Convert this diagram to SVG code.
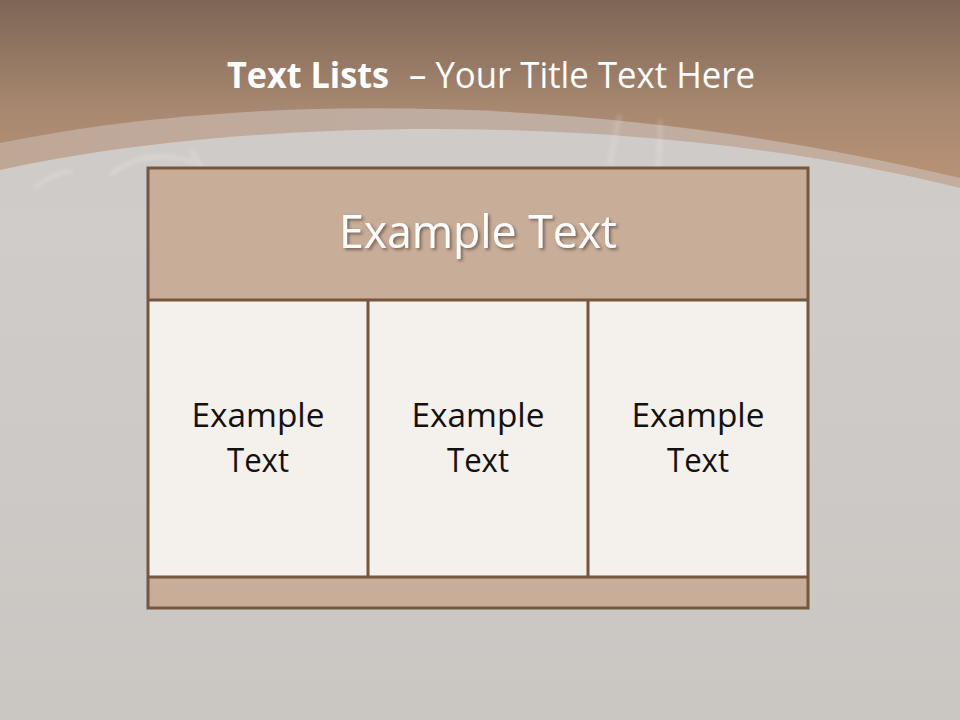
<svg xmlns="http://www.w3.org/2000/svg" width="960" height="720" viewBox="0 0 960 720">
  <defs>
    <linearGradient id="topGrad" x1="0" y1="0" x2="0" y2="1" gradientUnits="objectBoundingBox">
      <stop offset="0" stop-color="#7d6656"/>
      <stop offset="0.55" stop-color="#a88870"/>
      <stop offset="1" stop-color="#bb9579"/>
    </linearGradient>
    <linearGradient id="bandGrad" x1="0" y1="0" x2="1" y2="0">
      <stop offset="0" stop-color="#bfa796"/>
      <stop offset="0.5" stop-color="#bfada2"/>
      <stop offset="1" stop-color="#c4ad9e"/>
    </linearGradient>
    <linearGradient id="bgGrad" x1="0" y1="0" x2="0" y2="1">
      <stop offset="0" stop-color="#d0ccc9"/>
      <stop offset="1" stop-color="#cac6c2"/>
    </linearGradient>
    <filter id="shadow" x="-10%" y="-30%" width="130%" height="170%">
      <feDropShadow dx="2" dy="2" stdDeviation="1.5" flood-color="#3a2a1f" flood-opacity="0.55"/>
    </filter>
    <filter id="soft" x="-20%" y="-20%" width="140%" height="140%">
      <feGaussianBlur stdDeviation="2"/>
    </filter>
  </defs>
  <style>
    .grid { stroke: #75573f; stroke-width: 3; }
    .hdr { fill: #c8ad98; }
    .cell { fill: #f4f0ec; }
    .title { font-family: "Open Sans", "Liberation Sans", sans-serif; fill: #ffffff; font-size: 36px; }
    .head { font-family: "Open Sans", "Liberation Sans", sans-serif; fill: #ffffff; font-size: 45px; text-anchor: middle; }
    .body { font-family: "Open Sans", "Liberation Sans", sans-serif; fill: #111111; font-size: 33px; text-anchor: middle; }
    .streak { fill: none; stroke: #ffffff; stroke-opacity: 0.25; stroke-width: 3; }
  </style>

  <!-- background -->
  <rect x="0" y="0" width="960" height="720" fill="url(#bgGrad)"/>
  <path d="M0,0 H960 V200 H0 Z" fill="url(#topGrad)"/>
  <path d="M0,143 C250,92 600,92 960,178 V720 H0 Z" fill="url(#bandGrad)"/>
  <path d="M0,170 C250,115 650,110 960,188 V720 H0 Z" fill="#cfcbc8"/>
  <path d="M0,210 H960 V720 H0 Z" fill="url(#bgGrad)"/>
  <g filter="url(#soft)">
    <path class="streak" d="M35,188 C50,175 65,170 72,172"/>
    <path class="streak" d="M110,175 C130,158 165,150 195,163"/>
    <path class="streak" d="M190,150 C200,160 205,175 210,190"/>
    <path class="streak" d="M620,115 C615,135 612,150 610,165"/>
    <path class="streak" d="M660,120 C660,140 660,155 658,170"/>
  </g>

  <!-- title -->
  <g id="title">
    <text class="title" x="227" y="88" font-weight="bold" textLength="162" lengthAdjust="spacingAndGlyphs">Text Lists</text>
    <text class="title" x="409" y="88" textLength="346" lengthAdjust="spacingAndGlyphs">– Your Title Text Here</text>
  </g>

  <!-- header -->
  <g id="header">
    <rect class="hdr" x="148" y="168" width="660" height="132"/>
    <text class="head" x="478" y="248" filter="url(#shadow)" textLength="278" lengthAdjust="spacingAndGlyphs">Example Text</text>
  </g>

  <!-- cells -->
  <g id="cell1">
    <rect class="cell" x="148" y="300" width="220" height="277"/>
    <text class="body" x="258" y="427" textLength="133" lengthAdjust="spacingAndGlyphs">Example</text>
    <text class="body" x="258" y="472" textLength="62" lengthAdjust="spacingAndGlyphs">Text</text>
  </g>
  <g id="cell2">
    <rect class="cell" x="368" y="300" width="220" height="277"/>
    <text class="body" x="478" y="427" textLength="133" lengthAdjust="spacingAndGlyphs">Example</text>
    <text class="body" x="478" y="472" textLength="62" lengthAdjust="spacingAndGlyphs">Text</text>
  </g>
  <g id="cell3">
    <rect class="cell" x="588" y="300" width="220" height="277"/>
    <text class="body" x="698" y="427" textLength="133" lengthAdjust="spacingAndGlyphs">Example</text>
    <text class="body" x="698" y="472" textLength="62" lengthAdjust="spacingAndGlyphs">Text</text>
  </g>

  <!-- footer -->
  <g id="footer">
    <rect class="hdr" x="148" y="577" width="660" height="31"/>
  </g>

  <!-- grid lines -->
  <g id="connectors" fill="none">
    <rect class="grid" x="148" y="168" width="660" height="440"/>
    <line class="grid" x1="148" y1="300" x2="808" y2="300"/>
    <line class="grid" x1="148" y1="577" x2="808" y2="577"/>
    <line class="grid" x1="368" y1="300" x2="368" y2="577"/>
    <line class="grid" x1="588" y1="300" x2="588" y2="577"/>
  </g>
</svg>
